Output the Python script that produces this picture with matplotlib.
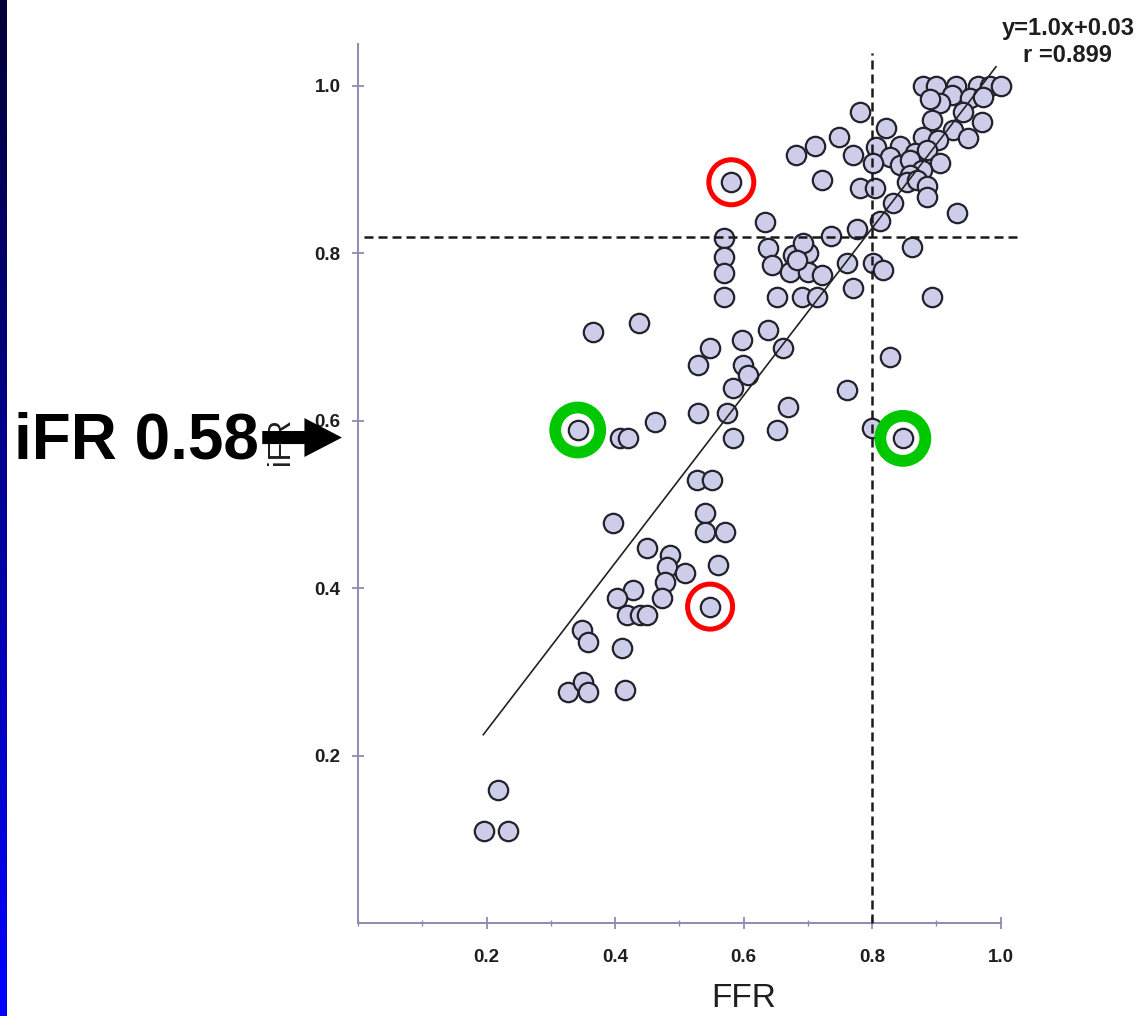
import numpy as np
import matplotlib
matplotlib.use("Agg")
import matplotlib.pyplot as plt

plt.rcParams['font.family'] = ['Liberation Sans', 'DejaVu Sans']

# paired FFR / iFR readings, one entry per lesion
ffr = [0.88, 0.90, 0.93, 0.965, 0.984, 1.00, 0.925, 0.906, 0.89, 0.953, 0.973, 0.942, 0.893, 0.971, 0.926, 0.949, 0.88, 0.903,
       0.781, 0.822, 0.749, 0.711, 0.77, 0.806, 0.844, 0.828, 0.867, 0.886, 0.802, 0.844, 0.859, 0.906, 0.878, 0.859, 0.781,
       0.805, 0.722, 0.854, 0.87, 0.886, 0.886, 0.833, 0.812, 0.777, 0.736, 0.932, 0.682, 0.581,
       0.633, 0.638, 0.57, 0.57, 0.57, 0.57, 0.644, 0.677, 0.70, 0.672, 0.70, 0.693, 0.652, 0.691, 0.714, 0.862, 0.761, 0.802,
       0.817, 0.77, 0.893, 0.722, 0.683,
       0.366, 0.437, 0.548, 0.529, 0.598, 0.638, 0.661, 0.599, 0.607, 0.584, 0.529, 0.574, 0.669, 0.652, 0.584, 0.462, 0.342,
       0.408, 0.42, 0.761, 0.828, 0.80, 0.848, 0.528, 0.551,
       0.54, 0.54, 0.571, 0.397, 0.45, 0.486, 0.481, 0.56, 0.478, 0.473, 0.428, 0.403, 0.419, 0.439, 0.45, 0.349, 0.358, 0.411,
       0.548, 0.327, 0.35, 0.358, 0.416, 0.196, 0.233, 0.218, 0.509]
ifr = [1.0, 1.0, 1.0, 1.0, 1.0, 1.0, 0.989, 0.98, 0.984, 0.986, 0.987, 0.969, 0.959, 0.957, 0.947, 0.938, 0.939, 0.935,
       0.969, 0.95, 0.939, 0.928, 0.918, 0.927, 0.928, 0.915, 0.92, 0.924, 0.908, 0.906, 0.912, 0.908, 0.9, 0.894, 0.878,
       0.878, 0.888, 0.885, 0.888, 0.881, 0.867, 0.86, 0.839, 0.829, 0.821, 0.848, 0.918, 0.885,
       0.838, 0.806, 0.818, 0.796, 0.777, 0.748, 0.786, 0.798, 0.80, 0.778, 0.778, 0.812, 0.748, 0.748, 0.748, 0.808, 0.789, 0.789,
       0.78, 0.759, 0.748, 0.774, 0.792,
       0.706, 0.717, 0.687, 0.667, 0.697, 0.708, 0.687, 0.667, 0.655, 0.639, 0.609, 0.609, 0.616, 0.589, 0.579, 0.599, 0.589,
       0.579, 0.579, 0.637, 0.676, 0.591, 0.579, 0.529, 0.529,
       0.49, 0.467, 0.467, 0.478, 0.448, 0.44, 0.425, 0.428, 0.407, 0.388, 0.398, 0.388, 0.368, 0.368, 0.368, 0.35, 0.336, 0.329,
       0.378, 0.276, 0.288, 0.276, 0.278, 0.11, 0.11, 0.159, 0.418]

# discordant cases picked out on the slide
green_ffr = [0.342, 0.848]
green_ifr = [0.589, 0.579]
red_ffr = [0.581, 0.548]
red_ifr = [0.885, 0.378]

# regression and cut-offs
slope, intercept, r = 1.0, 0.03, 0.899
ffr_cut = 0.80
ifr_cut = 0.82
ifr_pointer = 0.58

xticks = [0.2, 0.4, 0.6, 0.8, 1.0]
yticks = [0.2, 0.4, 0.6, 0.8, 1.0]

fig = plt.figure(figsize=(11.47, 10.16), dpi=100)

# slide background strip on the left edge
strip = fig.add_axes([0, 0, 7 / 1147, 1])
grad = np.linspace(0, 1, 256).reshape(-1, 1)
strip.imshow(grad, aspect='auto', cmap=matplotlib.colors.LinearSegmentedColormap.from_list(
    'slide', ['#000035', '#0000ff']))
strip.axis('off')

ax = fig.add_axes([358 / 1147, 93 / 1016, 642.5 / 1147, 1.05 * 837 / 1016])
ax.set_xlim(0, 1.0)
ax.set_ylim(0, 1.05)

axis_col = '#8c8cb2'
for side in ['top', 'right']:
    ax.spines[side].set_visible(False)
for side in ['left', 'bottom']:
    ax.spines[side].set_color(axis_col)
    ax.spines[side].set_linewidth(1.4)

ax.set_xticks(xticks)
ax.set_xticklabels(['%.1f' % v for v in xticks])
ax.set_xticks([0.0, 0.1, 0.3, 0.5, 0.7, 0.9], minor=True)
ax.set_yticks(yticks)
ax.set_yticklabels(['%.1f' % v for v in yticks])
ax.tick_params(axis='both', which='major', direction='inout', length=9, width=1.3, color=axis_col,
               labelsize=13.5, labelcolor='#1e1e1e')
ax.tick_params(axis='x', which='major', pad=14)
ax.tick_params(axis='y', which='major', pad=8)
ax.tick_params(axis='x', which='minor', direction='inout', length=5, width=1.0, color=axis_col)
for lab in ax.get_xticklabels() + ax.get_yticklabels():
    lab.set_fontweight('bold')

ax.set_xlabel('FFR', fontsize=24, color='#1e1e1e')
ax.xaxis.set_label_coords(0.6, -0.068)

ax.scatter(ffr, ifr, s=195, facecolor='#cdcdea', edgecolor='#22222c', linewidth=1.6,
           zorder=3, clip_on=False)

# cut-off lines
ax.plot([ffr_cut, ffr_cut], [0, 1.04], color='#1a1a1a', lw=1.8, dashes=(3.6, 2.0), zorder=4, clip_on=False)
ax.plot([0.01, 1.03], [ifr_cut, ifr_cut], color='#1a1a1a', lw=1.8, dashes=(3.6, 2.0), zorder=4, clip_on=False)

# regression line
xs = np.array([0.195, 0.993])
ax.plot(xs, slope * xs + intercept, color='#222222', lw=1.2, zorder=4, clip_on=False)
ax.text(1.209, 1.061, 'y=%.1fx+%.2f' % (slope, intercept), ha='right', va='baseline',
        fontsize=17, fontweight='bold', color='#1e1e1e', clip_on=False)
ax.text(1.174, 1.029, 'r =%.3f' % r, ha='right', va='baseline',
        fontsize=17, fontweight='bold', color='#1e1e1e', clip_on=False)

# highlight rings
ax.scatter(green_ffr, green_ifr, s=1050, facecolor='none', edgecolor='#00c800', linewidth=8.5,
           zorder=5, clip_on=False)
ax.scatter(red_ffr, red_ifr, s=1050, facecolor='none', edgecolor='#ff0000', linewidth=3.6,
           zorder=5, clip_on=False)

ax.text(-0.12, 0.576, 'iFR', rotation=90, ha='center', va='center', fontsize=22,
        color='#1e1e1e', clip_on=False)

# pointer to iFR 0.58 on the axis
ax.text(-0.535, ifr_pointer - 0.0245, 'iFR %.2f' % ifr_pointer, ha='left', va='baseline',
        fontsize=46, fontweight='bold', color='black', clip_on=False)
ax.annotate('', xy=(-0.025, ifr_pointer), xytext=(-0.149, ifr_pointer), annotation_clip=False,
            arrowprops=dict(arrowstyle='simple,head_length=1.35,head_width=1.4,tail_width=0.47',
                            mutation_scale=20, fc='black', ec='black', lw=0,
                            shrinkA=0, shrinkB=0), zorder=6)

fig.savefig('out.png', dpi=100)
